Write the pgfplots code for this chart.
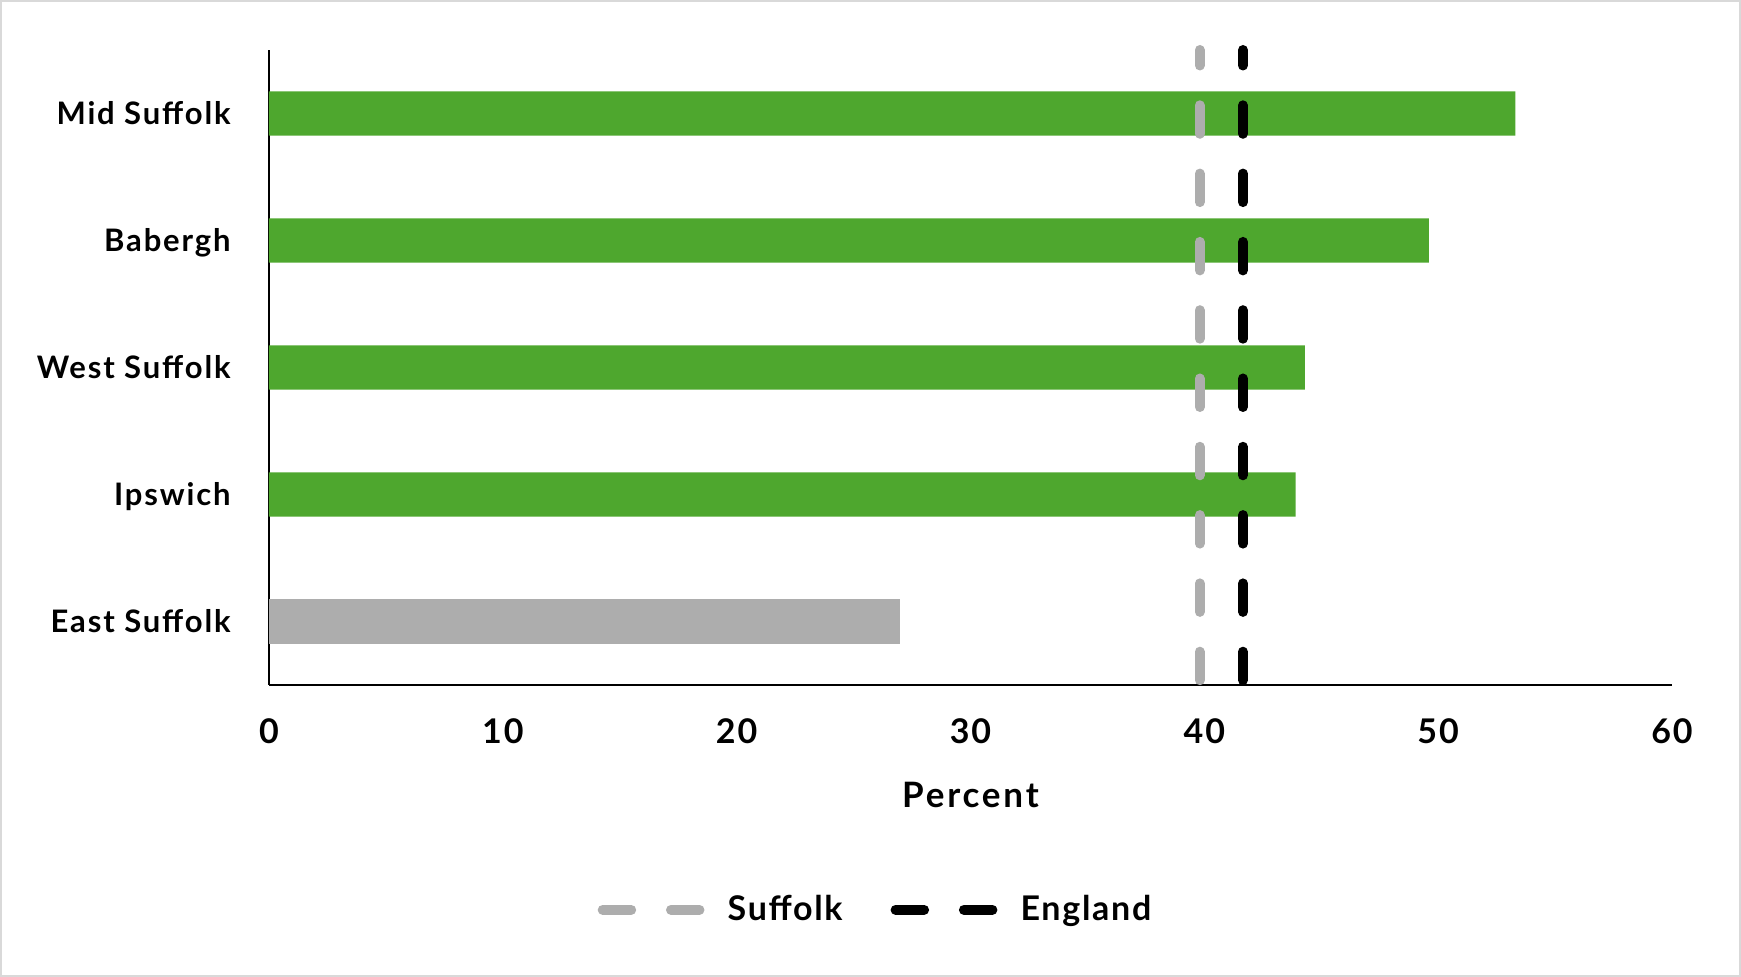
\documentclass[border=0pt]{standalone}
\usepackage{pgfplots}
\pgfplotsset{compat=1.18}
\usepackage{fontspec}
\setmainfont{Lato}[LetterSpace=6]
\definecolor{barGreen}{RGB}{78,167,46}
\definecolor{barGray}{RGB}{173,173,173}
\definecolor{frameGray}{RGB}{217,217,217}
\begin{document}
\begin{tikzpicture}
\useasboundingbox (-134.5pt,-146pt) rectangle (736pt,342.5pt);
\draw[frameGray, line width=1pt] (-134pt,-145.5pt) rectangle (735.5pt,342pt);
\begin{axis}[
  at={(0,0)}, anchor=south west,
  scale only axis, width=701.5pt, height=317.5pt,
  xmin=0, xmax=60, ymin=-0.5, ymax=4.5,
  xtick={0,10,...,60}, ytick={0,1,2,3,4},
  yticklabels={East Suffolk, Ipswich, West Suffolk, Babergh, Mid Suffolk},
  axis x line*=bottom, axis y line*=left,
  major tick length=0pt,
  axis line style={black, line width=1.3pt},
  clip=false,
  /pgf/number format/assume math mode=true,
  xticklabel style={font=\bfseries\fontsize{17}{20}\selectfont, anchor=base, inner sep=0pt, yshift=-29.5pt},
  yticklabel style={font=\bfseries\fontsize{15.5}{18}\selectfont, anchor=base east, inner sep=0pt, xshift=-19pt, yshift=-5.5pt},
  xlabel={Percent},
  xlabel style={font=\bfseries\fontsize{17.5}{20}\selectfont\addfontfeatures{LetterSpace=8}, at={(axis description cs:0.5,0)}, anchor=base, inner sep=0pt, yshift=-61.5pt},
  legend style={at={(axis description cs:0.433,-0.354)}, anchor=center, draw=none, fill=none,
    legend columns=2, font=\bfseries\fontsize{17}{20}\selectfont\addfontfeatures{LetterSpace=5},
    /tikz/every even column/.append style={column sep=22pt}},
  legend image code/.code={\draw[#1, dash phase=0pt] (0pt,0pt) -- (48.5pt,0pt); \path (58pt,0pt);},
]
\addplot[xbar, bar width=22.2pt, bar shift=0pt, fill=barGreen, draw=none, forget plot]
  coordinates {(53.3,4) (49.6,3) (44.3,2) (43.9,1)};
\addplot[xbar, bar width=22.2pt, bar shift=0pt, fill=barGray, draw=none, forget plot]
  coordinates {(27.0,0)};
\addplot[barGray, line width=5pt, line cap=round, dash pattern=on 14.25pt off 19.9pt, dash phase=6.5pt]
  coordinates {(39.8,4.5) (39.8,-0.5)};
\addlegendentry{Suffolk}
\addplot[black, line width=5pt, line cap=round, dash pattern=on 14.25pt off 19.9pt, dash phase=6.5pt]
  coordinates {(41.65,4.5) (41.65,-0.5)};
\addlegendentry{England}
\end{axis}
\end{tikzpicture}
\end{document}
